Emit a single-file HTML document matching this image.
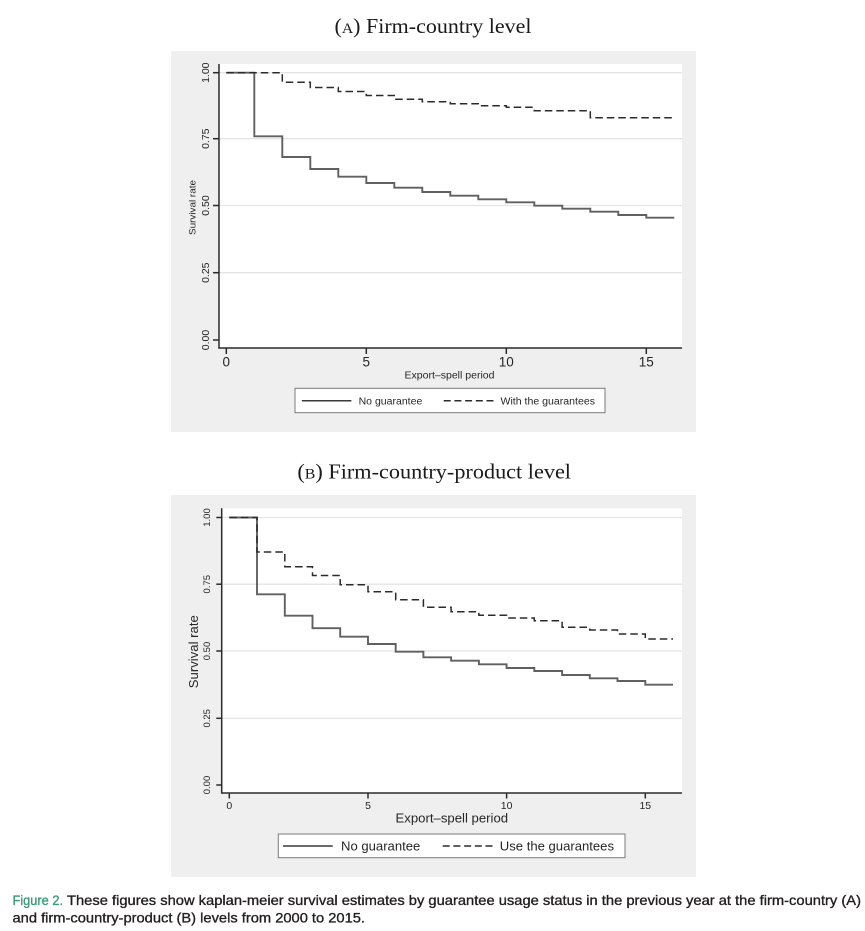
<!DOCTYPE html>
<html>
<head>
<meta charset="utf-8">
<style>
  html, body { margin: 0; padding: 0; background: #ffffff; }
  svg { display: block; }
  .sans { font-family: "Liberation Sans", Arial, sans-serif; fill: #262626; }
  .serif { font-family: "Liberation Serif", "Times New Roman", serif; fill: #1a1a1a; }
</style>
</head>
<body>
<svg width="865" height="931" viewBox="0 0 865 931" xmlns="http://www.w3.org/2000/svg">
  <rect x="0" y="0" width="865" height="931" fill="#ffffff"/>

  <!-- ================= PANEL A ================= -->
  <text class="serif" x="334.5" y="33" font-size="21" textLength="197" lengthAdjust="spacingAndGlyphs">(<tspan font-size="15">A</tspan>) Firm-country level</text>

  <rect x="171" y="51" width="525" height="381" fill="#efefef"/>
  <rect x="219" y="64" width="463" height="284" fill="#ffffff"/>

  <!-- grid -->
  <g stroke="#e4e4e4" stroke-width="1.3">
    <line x1="219" y1="72.7" x2="682" y2="72.7"/>
    <line x1="219" y1="138.7" x2="682" y2="138.7"/>
    <line x1="219" y1="205.5" x2="682" y2="205.5"/>
    <line x1="219" y1="272.7" x2="682" y2="272.7"/>
  </g>

  <!-- axes -->
  <g stroke="#2b2b2b" stroke-width="1.5" fill="none">
    <line x1="219" y1="64" x2="219" y2="348.5"/>
    <line x1="218.3" y1="348" x2="682" y2="348"/>
    <line x1="213" y1="72.7" x2="219" y2="72.7"/>
    <line x1="213" y1="138.7" x2="219" y2="138.7"/>
    <line x1="213" y1="205.5" x2="219" y2="205.5"/>
    <line x1="213" y1="272.7" x2="219" y2="272.7"/>
    <line x1="213" y1="340" x2="219" y2="340"/>
    <line x1="226.3" y1="348" x2="226.3" y2="354"/>
    <line x1="366.3" y1="348" x2="366.3" y2="354"/>
    <line x1="506.3" y1="348" x2="506.3" y2="354"/>
    <line x1="646.3" y1="348" x2="646.3" y2="354"/>
  </g>

  <!-- y tick labels -->
  <g class="sans" font-size="10.5" text-anchor="middle">
    <text transform="translate(208.8,72.7) rotate(-90)">1.00</text>
    <text transform="translate(208.8,138.7) rotate(-90)">0.75</text>
    <text transform="translate(208.8,205.5) rotate(-90)">0.50</text>
    <text transform="translate(208.8,272.7) rotate(-90)">0.25</text>
    <text transform="translate(208.8,340) rotate(-90)">0.00</text>
  </g>
  <text class="sans" font-size="9.5" text-anchor="middle" transform="translate(195.5,207.5) rotate(-90)" textLength="55" lengthAdjust="spacingAndGlyphs">Survival rate</text>

  <!-- x tick labels -->
  <g class="sans" font-size="13.5" text-anchor="middle">
    <text x="226.3" y="366.5">0</text>
    <text x="366.3" y="366.5">5</text>
    <text x="506.3" y="366.5">10</text>
    <text x="646.3" y="366.5">15</text>
  </g>
  <text class="sans" font-size="10" x="404.5" y="378.5" textLength="90" lengthAdjust="spacingAndGlyphs">Export–spell period</text>

  <!-- series A -->
  <path d="M226.3,72.7 H254.3 V136.3 H282.3 V157 H310.3 V169 H338.3 V176.7 H366.3 V183 H394.3 V187.7 H422.3 V192 H450.3 V195.7 H478.3 V199.3 H506.3 V202.3 H534.3 V205.7 H562.3 V208.7 H590.3 V211.7 H618.3 V215 H646.3 V217.7 H674.3" fill="none" stroke="#606060" stroke-width="1.9"/>
  <path d="M226.3,72.7 H282.3 V82.2 H310.3 V87.5 H338.3 V91.5 H366.3 V95.5 H394.3 V99.3 H422.3 V101.7 H450.3 V103.7 H478.3 V105.7 H506.3 V107.3 H534.3 V110.7 H590.3 V117.7 H674.3" fill="none" stroke="#2b2b2b" stroke-width="1.5" stroke-dasharray="7.5 4"/>

  <!-- legend A -->
  <rect x="295" y="388.3" width="310" height="24.4" fill="#ffffff" stroke="#7a7a7a" stroke-width="1"/>
  <line x1="301.8" y1="400.8" x2="351.4" y2="400.8" stroke="#3a3a3a" stroke-width="1.5"/>
  <text class="sans" font-size="10" x="358.6" y="404.5" textLength="63.7" lengthAdjust="spacingAndGlyphs">No guarantee</text>
  <line x1="443.7" y1="400.8" x2="493.6" y2="400.8" stroke="#2b2b2b" stroke-width="1.5" stroke-dasharray="7 3.7"/>
  <text class="sans" font-size="10" x="500.5" y="404.5" textLength="94.5" lengthAdjust="spacingAndGlyphs">With the guarantees</text>

  <!-- ================= PANEL B ================= -->
  <text class="serif" x="297.4" y="478.3" font-size="21" textLength="273.6" lengthAdjust="spacingAndGlyphs">(<tspan font-size="15">B</tspan>) Firm-country-product level</text>

  <rect x="171" y="495" width="525" height="382" fill="#efefef"/>
  <rect x="221.7" y="508.3" width="460.3" height="284.7" fill="#ffffff"/>

  <g stroke="#e4e4e4" stroke-width="1.3">
    <line x1="221.7" y1="517.5" x2="682" y2="517.5"/>
    <line x1="221.7" y1="584.2" x2="682" y2="584.2"/>
    <line x1="221.7" y1="651" x2="682" y2="651"/>
    <line x1="221.7" y1="718.3" x2="682" y2="718.3"/>
  </g>

  <g stroke="#2b2b2b" stroke-width="1.5" fill="none">
    <line x1="221.7" y1="508.3" x2="221.7" y2="793.5"/>
    <line x1="221" y1="793" x2="682" y2="793"/>
    <line x1="216.3" y1="517.5" x2="221.7" y2="517.5"/>
    <line x1="216.3" y1="584.2" x2="221.7" y2="584.2"/>
    <line x1="216.3" y1="651" x2="221.7" y2="651"/>
    <line x1="216.3" y1="718.3" x2="221.7" y2="718.3"/>
    <line x1="216.3" y1="785" x2="221.7" y2="785"/>
    <line x1="229.3" y1="793" x2="229.3" y2="798.5"/>
    <line x1="368" y1="793" x2="368" y2="798.5"/>
    <line x1="506.6" y1="793" x2="506.6" y2="798.5"/>
    <line x1="645.3" y1="793" x2="645.3" y2="798.5"/>
  </g>

  <g class="sans" font-size="9.5" text-anchor="middle">
    <text transform="translate(210.2,517.5) rotate(-90)">1.00</text>
    <text transform="translate(210.2,584.2) rotate(-90)">0.75</text>
    <text transform="translate(210.2,651) rotate(-90)">0.50</text>
    <text transform="translate(210.2,718.3) rotate(-90)">0.25</text>
    <text transform="translate(210.2,785) rotate(-90)">0.00</text>
  </g>
  <text class="sans" font-size="12.5" text-anchor="middle" transform="translate(197.8,651.7) rotate(-90)" textLength="73" lengthAdjust="spacingAndGlyphs">Survival rate</text>

  <g class="sans" font-size="10.5" text-anchor="middle">
    <text x="229.3" y="809">0</text>
    <text x="368" y="809">5</text>
    <text x="506.6" y="809">10</text>
    <text x="645.3" y="809">15</text>
  </g>
  <text class="sans" font-size="12.5" x="395.5" y="822.5" textLength="112.6" lengthAdjust="spacingAndGlyphs">Export–spell period</text>

  <!-- series B -->
  <path d="M229.3,517.5 H257 V594.3 H284.8 V615.7 H312.5 V628.2 H340.2 V636.7 H368 V644 H395.7 V651.7 H423.4 V657.3 H451.1 V660.7 H478.9 V664.3 H506.6 V668 H534.3 V671 H562.1 V675 H589.8 V678.3 H617.5 V681 H645.3 V684.7 H673" fill="none" stroke="#606060" stroke-width="1.9"/>
  <path d="M229.3,517.5 H257 V552 H284.8 V566.7 H312.5 V575.5 H340.2 V584.8 H368 V591.8 H395.7 V599.7 H423.4 V607.3 H451.1 V611.7 H478.9 V615.3 H506.6 V618 H534.3 V620.7 H562.1 V627.3 H589.8 V630 H617.5 V634 H645.3 V639 H673" fill="none" stroke="#2b2b2b" stroke-width="1.5" stroke-dasharray="7.5 4"/>

  <!-- legend B -->
  <rect x="278.3" y="834" width="346.7" height="23.7" fill="#ffffff" stroke="#7a7a7a" stroke-width="1"/>
  <line x1="283" y1="846" x2="332.7" y2="846" stroke="#3a3a3a" stroke-width="1.5"/>
  <text class="sans" font-size="12.5" x="341" y="850.5" textLength="79.3" lengthAdjust="spacingAndGlyphs">No guarantee</text>
  <line x1="442.7" y1="846" x2="492.7" y2="846" stroke="#2b2b2b" stroke-width="1.5" stroke-dasharray="7 3.7"/>
  <text class="sans" font-size="12.5" x="499.8" y="850.5" textLength="114.2" lengthAdjust="spacingAndGlyphs">Use the guarantees</text>

  <!-- ================= CAPTION ================= -->
  <text x="12.5" y="905" font-family="'Liberation Sans', Arial, sans-serif" font-size="14" fill="#3a9a78" stroke="#3a9a78" stroke-width="0.35" textLength="50.5" lengthAdjust="spacingAndGlyphs">Figure 2.</text>
  <text x="67" y="905" font-family="'Liberation Sans', Arial, sans-serif" font-size="14" fill="#231f20" stroke="#231f20" stroke-width="0.35" textLength="794" lengthAdjust="spacingAndGlyphs">These figures show kaplan-meier survival estimates by guarantee usage status in the previous year at the firm-country (A)</text>
  <text x="12.5" y="922.7" font-family="'Liberation Sans', Arial, sans-serif" font-size="14" fill="#231f20" stroke="#231f20" stroke-width="0.35" textLength="352.5" lengthAdjust="spacingAndGlyphs">and firm-country-product (B) levels from 2000 to 2015.</text>
</svg>
</body>
</html>
